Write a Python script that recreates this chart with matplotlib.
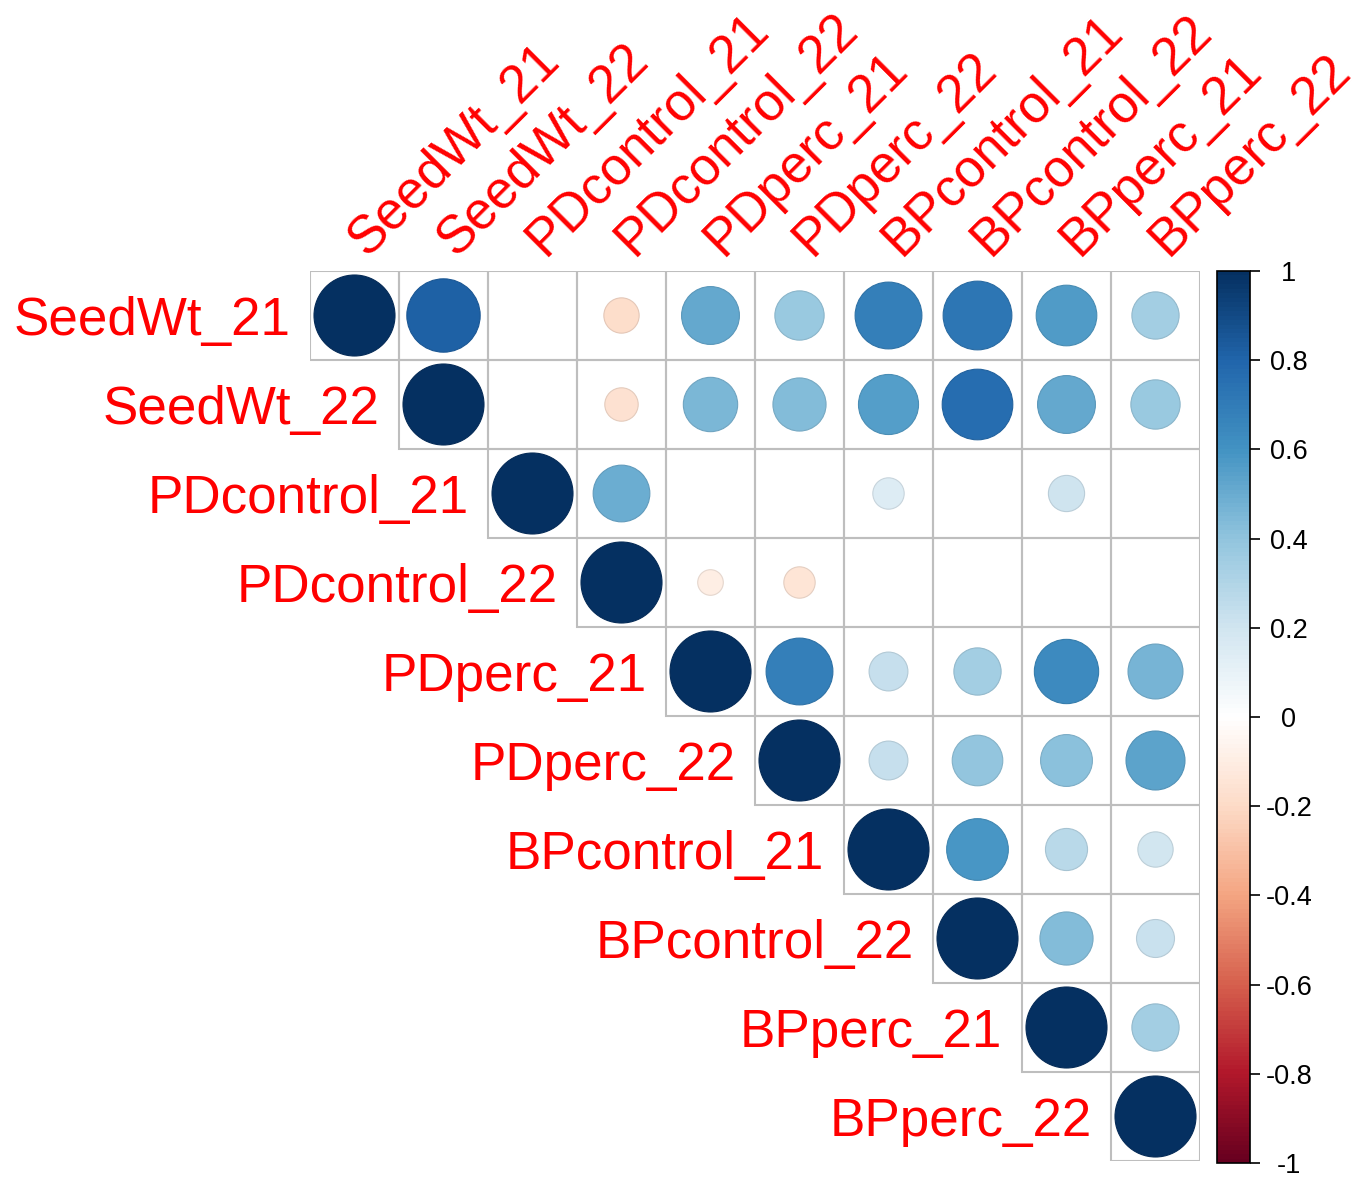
import numpy as np
import matplotlib
matplotlib.use('Agg')
import matplotlib.pyplot as plt
from matplotlib.colors import LinearSegmentedColormap, Normalize, to_rgb
from matplotlib.patches import Circle, Rectangle
import matplotlib.cm as cm

plt.rcParams['font.family'] = ['Liberation Sans', 'DejaVu Sans']

variables = ['SeedWt_21', 'SeedWt_22', 'PDcontrol_21', 'PDcontrol_22',
             'PDperc_21', 'PDperc_22', 'BPcontrol_21', 'BPcontrol_22',
             'BPperc_21', 'BPperc_22']

# upper triangle, each row starts on the diagonal; nan = blank (not significant)
nan = np.nan
row_seedwt21 = [1, 0.82, nan, -0.19, 0.51, 0.37, 0.68, 0.72, 0.56, 0.34]
row_seedwt22 = [1, nan, -0.17, 0.45, 0.43, 0.55, 0.76, 0.51, 0.37]
row_pdcontrol21 = [1, 0.49, nan, nan, 0.15, nan, 0.20, nan]
row_pdcontrol22 = [1, -0.10, -0.15, nan, nan, nan, nan]
row_pdperc21 = [1, 0.68, 0.23, 0.34, 0.63, 0.46]
row_pdperc22 = [1, 0.23, 0.39, 0.41, 0.53]
row_bpcontrol21 = [1, 0.58, 0.27, 0.19]
row_bpcontrol22 = [1, 0.43, 0.22]
row_bpperc21 = [1, 0.34]
row_bpperc22 = [1]

colorbar_ticks = [-1, -0.8, -0.6, -0.4, -0.2, 0, 0.2, 0.4, 0.6, 0.8, 1]
colorbar_labels = ['-1', '-0.8', '-0.6', '-0.4', '-0.2', '0', '0.2', '0.4', '0.6', '0.8', '1']

rows = [row_seedwt21, row_seedwt22, row_pdcontrol21, row_pdcontrol22,
        row_pdperc21, row_pdperc22, row_bpcontrol21, row_bpcontrol22,
        row_bpperc21, row_bpperc22]
n = len(variables)

# corrplot RdBu palette
cmap = LinearSegmentedColormap.from_list('corr_rdbu', [
    '#67001F', '#B2182B', '#D6604D', '#F4A582', '#FDDBC7', '#FFFFFF',
    '#D1E5F0', '#92C5DE', '#4393C3', '#2166AC', '#053061'], N=200)
norm = Normalize(-1, 1)

W, H = 1360, 1189
fig = plt.figure(figsize=(W / 100, H / 100), dpi=100)

# grid 310..1200 px horizontally, 271..1161 px vertically
ax = fig.add_axes([310 / W, (H - 1161) / H, 890 / W, 890 / H])
ax.set_xlim(0, n)
ax.set_ylim(n, 0)
ax.set_axis_off()

grid_col = '#BEBEBE'
label_col = '#FF0000'

for i, row in enumerate(rows):
    for k, val in enumerate(row):
        j = i + k
        ax.add_patch(Rectangle((j, i), 1, 1, facecolor='none', edgecolor=grid_col,
                               linewidth=1.5, zorder=1))
        if np.isnan(val):
            continue
        fc = cmap(norm(val))
        ec = tuple(c * 0.9 for c in to_rgb(fc))
        ax.add_patch(Circle((j + 0.5, i + 0.5), 0.455 * np.sqrt(abs(val)),
                            facecolor=fc, edgecolor=ec, linewidth=0.8, zorder=2))

# row labels, right aligned next to the diagonal cell
for i, name in enumerate(variables):
    ax.text(i - 0.22, i + 0.5, name, ha='right', va='center_baseline', fontsize=38.2,
            color=label_col, clip_on=False)

# column labels at 45 degrees above the grid
for j, name in enumerate(variables):
    ax.text(j + 0.64, -0.16, name, ha='left', va='baseline', rotation=45,
            rotation_mode='anchor', fontsize=38, color=label_col, clip_on=False)

# colour legend
cax = fig.add_axes([1217 / W, (H - 1163) / H, 33 / W, 892 / H])
cb = fig.colorbar(cm.ScalarMappable(norm=norm, cmap=cmap), cax=cax)
cb.set_ticks(colorbar_ticks)
cb.set_ticklabels(colorbar_labels)
cb.outline.set_linewidth(1.2)
cax.tick_params(axis='y', length=7, width=1.2, pad=21, labelsize=19.5)
for lbl in cax.get_yticklabels():
    lbl.set_horizontalalignment('center')

fig.savefig('out.png', dpi=100)
